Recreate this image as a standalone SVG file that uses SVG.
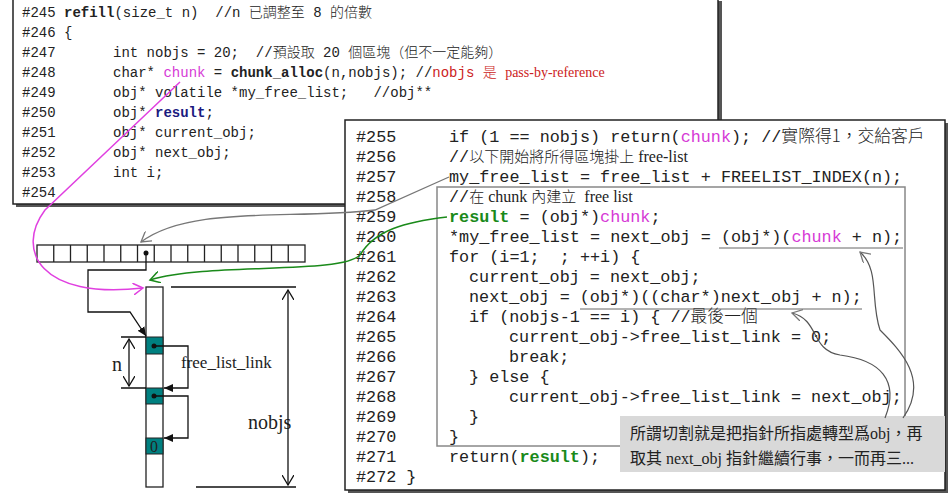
<svg xmlns="http://www.w3.org/2000/svg" width="950" height="495" viewBox="0 0 950 495">
<style>
.m{font-family:"Liberation Mono","Noto Sans CJK TC",monospace;font-size:14px;fill:#222;white-space:pre}
.mb{font-family:"Liberation Mono","Noto Sans CJK TC",monospace;font-size:16.8px;fill:#222;white-space:pre}
.cj{font-family:"Noto Sans CJK TC",sans-serif;font-weight:300}
.sf{font-family:"Liberation Serif","Noto Sans CJK TC",serif}
.b{font-weight:bold}
.mag{fill:#d63ad6}
.grn{fill:#1a8a1a;font-weight:bold}
.blu{fill:#1a1a80;font-weight:bold}
.red{fill:#cc2222}
.lbl{font-family:"Liberation Serif",serif;fill:#222}
.box{fill:#fff;stroke:#222;stroke-width:1.5}
.ln{fill:none;stroke:#111;stroke-width:1.3}
.teal{fill:#008080;stroke:#222;stroke-width:1}
</style>
<defs>
<marker id="ak" markerWidth="10" markerHeight="10" refX="9" refY="5" orient="auto" markerUnits="userSpaceOnUse"><path d="M0,1 L9,5 L0,9 z" fill="#111"/></marker>
<marker id="ao" markerWidth="12" markerHeight="12" refX="10" refY="6" orient="auto-start-reverse" markerUnits="userSpaceOnUse"><path d="M0,0 L10,6 L0,12" fill="none" stroke="#111" stroke-width="1.3"/></marker>
<marker id="am" markerWidth="12" markerHeight="12" refX="10" refY="6" orient="auto" markerUnits="userSpaceOnUse"><path d="M0,0 L10,6 L0,12" fill="none" stroke="#e040e0" stroke-width="1.5"/></marker>
<marker id="ag" markerWidth="12" markerHeight="12" refX="10" refY="6" orient="auto" markerUnits="userSpaceOnUse"><path d="M0,0 L10,6 L0,12" fill="none" stroke="#1a8a1a" stroke-width="1.5"/></marker>
<marker id="ay" markerWidth="12" markerHeight="12" refX="10" refY="6" orient="auto" markerUnits="userSpaceOnUse"><path d="M0,0 L10,6 L0,12" fill="none" stroke="#777" stroke-width="1.3"/></marker>
</defs>
<rect width="950" height="495" fill="#fff"/>

<g id="topbox">
<rect x="16" y="1" width="706" height="206" fill="#555"/>
<rect class="box" x="13" y="-2" width="705" height="206"/>
<g class="m">
<text x="22" y="17">#245 <tspan class="b">refill</tspan>(size_t n) &#160;//n <tspan class="cj">已調整至</tspan> 8 <tspan class="cj">的倍數</tspan></text>
<text x="22" y="37">#246 {</text>
<text x="22" y="57">#247</text><text x="113" y="57">int nobjs = 20; &#160;//<tspan class="cj">預設取</tspan> 20 <tspan class="cj">個區塊（但不一定能夠）</tspan></text>
<text x="22" y="77">#248</text><text x="113" y="77">char* <tspan class="mag">chunk</tspan> = <tspan class="b">chunk_alloc</tspan>(n,nobjs); //<tspan class="red">nobjs <tspan class="cj">是</tspan> <tspan class="sf">pass-by-reference</tspan></tspan></text>
<text x="22" y="97">#249</text><text x="113" y="97">obj* volatile *my_free_list; &#160;&#160;//obj**</text>
<text x="22" y="117">#250</text><text x="113" y="117">obj* <tspan class="blu">result</tspan>;</text>
<text x="22" y="137">#251</text><text x="113" y="137">obj* current_obj;</text>
<text x="22" y="157">#252</text><text x="113" y="157">obj* next_obj;</text>
<text x="22" y="177">#253</text><text x="113" y="177">int i;</text>
<text x="22" y="197">#254</text>
</g>
</g>

<g id="bottombox">
<rect x="348" y="123" width="600" height="370" fill="#555"/>
<rect class="box" x="345" y="120" width="600" height="370"/>
<rect x="437" y="187" width="468" height="259" fill="none" stroke="#888" stroke-width="1.5"/>
<g class="mb">
<text x="356" y="142">#255</text><text x="449" y="142">if (1 == nobjs) return(<tspan class="mag">chunk</tspan>); //<tspan class="cj">實際得1，交給客戶</tspan></text>
<text x="356" y="162">#256</text><text x="449" y="162">//<tspan class="cj" font-size="15">以下開始將所得區塊掛上</tspan><tspan class="sf" font-size="16"> free-list</tspan></text>
<text x="356" y="182">#257</text><text x="449" y="182">my_free_list = free_list + FREELIST_INDEX(n);</text>
<text x="356" y="202">#258</text><text x="449" y="202">//<tspan class="cj" font-size="15">在</tspan><tspan class="sf" font-size="16"> chunk </tspan><tspan class="cj" font-size="15">內建立</tspan><tspan class="sf" font-size="16"> &#160;free list</tspan></text>
<text x="356" y="222">#259</text><text x="449" y="222"><tspan class="grn">result</tspan> = (obj*)<tspan class="mag">chunk</tspan>;</text>
<text x="356" y="242">#260</text><text x="449" y="242">*my_free_list = next_obj = (obj*)(<tspan class="mag">chunk</tspan> + n);</text>
<text x="356" y="262">#261</text><text x="449" y="262">for (i=1; &#160;; ++i) {</text>
<text x="356" y="282">#262</text><text x="469" y="282">current_obj = next_obj;</text>
<text x="356" y="302">#263</text><text x="469" y="302">next_obj = (obj*)((char*)next_obj + n);</text>
<text x="356" y="322">#264</text><text x="469" y="322">if (nobjs-1 == i) { //<tspan class="cj">最後一個</tspan></text>
<text x="356" y="342">#265</text><text x="509" y="342">current_obj-&gt;free_list_link = 0;</text>
<text x="356" y="362">#266</text><text x="509" y="362">break;</text>
<text x="356" y="382">#267</text><text x="469" y="382">} else {</text>
<text x="356" y="402">#268</text><text x="509" y="402">current_obj-&gt;free_list_link = next_obj;</text>
<text x="356" y="422">#269</text><text x="469" y="422">}</text>
<text x="356" y="442">#270</text><text x="449" y="442">}</text>
<text x="356" y="462">#271</text><text x="449" y="462">return(<tspan class="grn">result</tspan>);</text>
<text x="356" y="482">#272 }</text>
</g>
<line x1="719" y1="248" x2="903" y2="248" stroke="#666" stroke-width="1"/>
<line x1="580" y1="309" x2="862" y2="309" stroke="#666" stroke-width="1"/>
</g>

<g id="callout">
<rect x="620" y="416" width="325" height="56" fill="#d9d9d9"/>
<text class="sf" x="630" y="439" font-size="16" fill="#222">所謂切割就是把指針所指處轉型爲obj，再</text>
<text class="sf" x="630" y="464" font-size="16" fill="#222">取其 next_obj 指針繼續行事，一而再三...</text>
</g>

<g id="array">
<rect x="37" y="245" width="268" height="17" fill="#fff" stroke="#222" stroke-width="1.3"/>
<path d="M53.75,245v17M70.5,245v17M87.25,245v17M104,245v17M120.75,245v17M137.5,245v17M154.25,245v17M171,245v17M187.75,245v17M204.5,245v17M221.25,245v17M238,245v17M254.75,245v17M271.5,245v17M288.25,245v17" stroke="#222" stroke-width="1.3"/>
<circle cx="146" cy="253" r="2.5" fill="#111"/>
</g>

<g id="column">
<rect x="146" y="287" width="17" height="200" fill="#fff" stroke="#222" stroke-width="1.3"/>
<rect class="teal" x="146" y="337" width="17" height="17"/>
<rect class="teal" x="146" y="388" width="17" height="16"/>
<rect class="teal" x="146" y="438" width="17" height="16"/>
<circle cx="154" cy="346" r="2.5" fill="#111"/>
<circle cx="154" cy="396" r="2.5" fill="#111"/>
<text class="lbl" x="150" y="452" font-size="16">0</text>
</g>

<g id="labels">
<text class="lbl" x="112" y="371" font-size="20">n</text>
<text class="lbl" x="181" y="368" font-size="17">free_list_link</text>
<text class="lbl" x="248" y="429" font-size="20">nobjs</text>
</g>

<g id="connectors">
<path class="ln" d="M146,253 V270 H88 V312 H130 L146,336" marker-end="url(#ak)"/>
<path class="ln" d="M154,346 H188 V388 H164" marker-end="url(#ak)"/>
<path class="ln" d="M154,396 H188 V438 H164" marker-end="url(#ak)"/>
<path class="ln" d="M121,337 H146 M121,388 H146 M171,287 H296 M196,487 H296"/>
<path class="ln" d="M129,339 V386" marker-start="url(#ao)" marker-end="url(#ao)"/>
<path class="ln" d="M288,290 V485" marker-start="url(#ao)" marker-end="url(#ao)"/>
<path d="M180,82 L45,210 C15,250 40,300 143,288" fill="none" stroke="#e040e0" stroke-width="1.5" marker-end="url(#am)"/>
<path d="M449,177 L375,210 C290,220 190,205 141,242" fill="none" stroke="#777" stroke-width="1.3" marker-end="url(#ay)"/>
<path d="M447,217 C405,222 375,230 360,255 C340,275 210,262 150,280" fill="none" stroke="#1a8a1a" stroke-width="1.5" marker-end="url(#ag)"/>
<path d="M903,418 C930,380 900,350 880,330 C870,300 880,270 860,252" fill="none" stroke="#555" stroke-width="1.2" marker-end="url(#ay)"/>
<path d="M885,418 C900,380 880,360 840,355 C810,350 820,320 792,313" fill="none" stroke="#555" stroke-width="1.2" marker-end="url(#ay)"/>
</g>
</svg>
